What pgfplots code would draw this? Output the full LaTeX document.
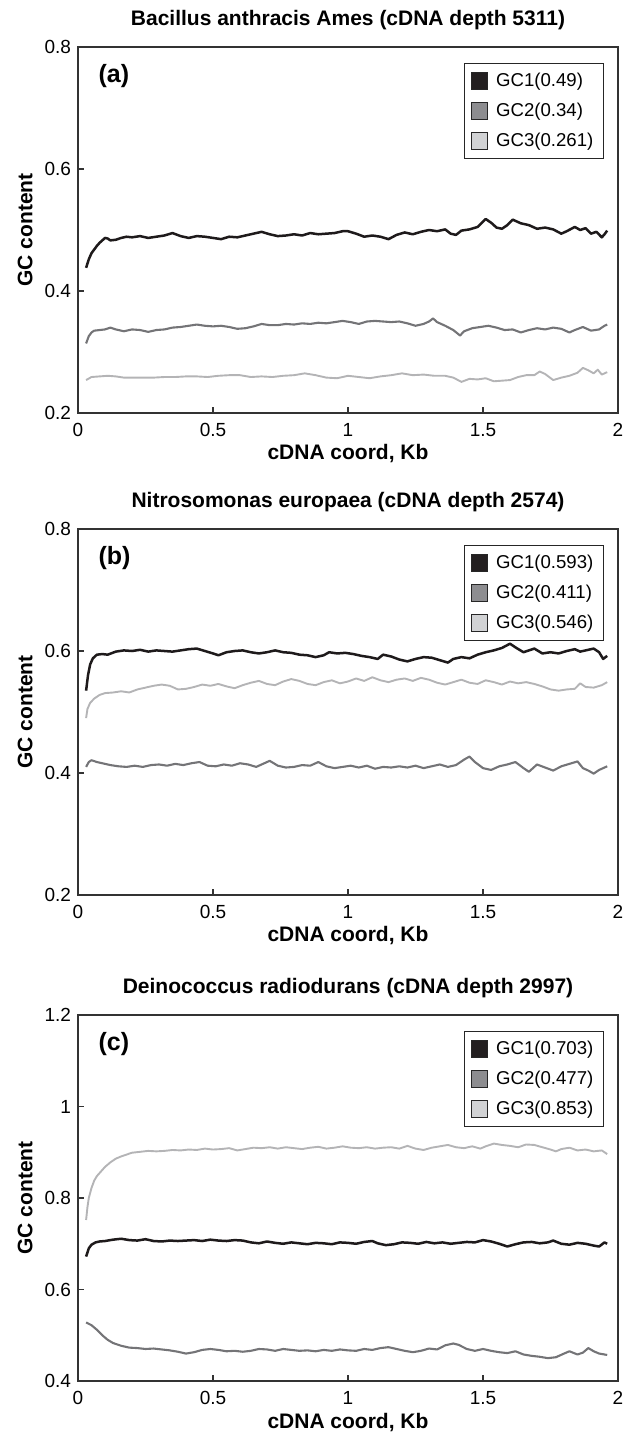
\documentclass[border=0pt]{standalone}
\usepackage{fontspec}
\setmainfont{Liberation Sans}
\usepackage{pgfplots}
\pgfplotsset{compat=1.18}
\definecolor{gcA}{HTML}{1E1A1B}
\definecolor{gcB}{HTML}{747477}
\definecolor{gcC}{HTML}{B4B4B6}
\definecolor{legA}{HTML}{231F20}
\definecolor{legB}{HTML}{8D8D90}
\definecolor{legC}{HTML}{D1D2D4}
\pgfplotsset{
  legend image code/.code={\draw[#1, draw=black!85, line width=0.5pt] (0pt,-4.2pt) rectangle (8.4pt,4.2pt); \path[draw=none, fill=none] (0pt,0pt) -- (10.5pt,0pt);},
  gcaxis/.style={
    scale only axis, width=270pt, height=183pt,
    xmin=0, xmax=2, xtick={0,0.5,1,1.5,2},
    tick align=inside, tick pos=left, major tick length=3pt,
    axis line style={black!80, line width=0.6pt},
    every tick/.style={black!80, line width=0.6pt},
    tick label style={font=\fontsize{9.5}{11}\selectfont},
    xticklabel style={yshift=-1.5pt},
    /pgf/number format/assume math mode=true,
    xlabel={cDNA coord, Kb}, ylabel={GC content},
    label style={font=\bfseries\fontsize{10.5}{12}\selectfont},
    xlabel style={at={(axis description cs:0.5,0)}, anchor=center, yshift=-20.5pt},
    ylabel style={at={(axis description cs:-0.098,0.5)}, anchor=center},
    title style={font=\bfseries\fontsize{10.5}{12}\selectfont, at={(axis description cs:0.5,1)}, anchor=center, yshift=7.25pt},
    legend style={at={(0.974,0.956)}, anchor=north east, draw=black!85, line width=0.6pt,
      font=\fontsize{9.3}{11}\selectfont, row sep=2.8pt, inner xsep=3pt, inner ysep=2.5pt},
    legend cell align=left,
  },
  l1/.style={gcA, line width=1.25pt, line join=round, forget plot},
  l2/.style={gcB, line width=1.05pt, line join=round, forget plot},
  l3/.style={gcC, line width=0.95pt, line join=round, forget plot},
}
\begin{document}
\begin{tikzpicture}
\useasboundingbox (0,0) rectangle (313.5pt,-716.5pt);
% ---------------- (a)
\begin{axis}[gcaxis, at={(39pt,-206.5pt)}, anchor=south west,
  ymin=0.2, ymax=0.8, ytick={0.2,0.4,0.6,0.8},
  title={Bacillus anthracis Ames (cDNA depth 5311)}]
\addlegendimage{fill=legA}\addlegendentry{GC1(0.49)}
\addlegendimage{fill=legB}\addlegendentry{GC2(0.34)}
\addlegendimage{fill=legC}\addlegendentry{GC3(0.261)}
\addplot[l3] table {
x y
0.030 0.254
0.050 0.259
0.080 0.260
0.110 0.261
0.140 0.260
0.170 0.258
0.200 0.258
0.240 0.258
0.280 0.258
0.320 0.259
0.360 0.259
0.400 0.260
0.440 0.260
0.480 0.259
0.520 0.261
0.560 0.262
0.600 0.262
0.640 0.259
0.680 0.260
0.720 0.259
0.760 0.261
0.800 0.262
0.840 0.265
0.880 0.262
0.920 0.258
0.960 0.257
1.000 0.261
1.040 0.259
1.080 0.257
1.120 0.260
1.160 0.262
1.200 0.265
1.240 0.262
1.280 0.263
1.320 0.261
1.360 0.261
1.390 0.258
1.420 0.251
1.450 0.256
1.480 0.255
1.510 0.257
1.540 0.252
1.570 0.253
1.600 0.254
1.630 0.259
1.660 0.262
1.690 0.262
1.710 0.268
1.730 0.264
1.760 0.254
1.790 0.258
1.820 0.261
1.850 0.266
1.870 0.274
1.890 0.270
1.910 0.265
1.925 0.271
1.940 0.263
1.960 0.267
};
\addplot[l2] table {
x y
0.030 0.314
0.040 0.326
0.050 0.332
0.060 0.335
0.080 0.336
0.100 0.337
0.120 0.340
0.140 0.337
0.170 0.334
0.200 0.337
0.230 0.336
0.260 0.333
0.290 0.336
0.320 0.337
0.350 0.340
0.380 0.341
0.410 0.343
0.440 0.345
0.470 0.343
0.500 0.342
0.530 0.343
0.560 0.341
0.590 0.338
0.620 0.339
0.650 0.342
0.680 0.346
0.710 0.344
0.740 0.344
0.770 0.346
0.800 0.345
0.830 0.347
0.860 0.346
0.890 0.348
0.920 0.347
0.950 0.349
0.980 0.351
1.010 0.349
1.040 0.346
1.070 0.350
1.100 0.351
1.130 0.350
1.160 0.349
1.190 0.350
1.220 0.347
1.250 0.343
1.280 0.346
1.300 0.350
1.315 0.355
1.330 0.349
1.360 0.343
1.390 0.336
1.415 0.327
1.430 0.334
1.460 0.339
1.490 0.341
1.520 0.343
1.550 0.340
1.580 0.336
1.610 0.337
1.640 0.332
1.670 0.336
1.700 0.339
1.730 0.337
1.760 0.340
1.790 0.338
1.820 0.332
1.840 0.336
1.870 0.341
1.900 0.335
1.930 0.337
1.950 0.343
1.960 0.345
};
\addplot[l1] table {
x y
0.030 0.438
0.040 0.452
0.050 0.462
0.060 0.468
0.070 0.474
0.080 0.479
0.090 0.483
0.100 0.487
0.110 0.486
0.120 0.483
0.140 0.484
0.160 0.487
0.180 0.489
0.200 0.488
0.230 0.490
0.260 0.487
0.290 0.489
0.320 0.491
0.350 0.495
0.380 0.490
0.410 0.487
0.440 0.490
0.470 0.489
0.500 0.487
0.530 0.485
0.560 0.489
0.590 0.488
0.620 0.491
0.650 0.494
0.680 0.497
0.710 0.493
0.740 0.490
0.770 0.491
0.800 0.493
0.830 0.491
0.860 0.495
0.890 0.493
0.920 0.494
0.950 0.495
0.980 0.498
1.000 0.498
1.030 0.494
1.060 0.489
1.090 0.491
1.120 0.489
1.150 0.485
1.180 0.492
1.210 0.496
1.240 0.493
1.270 0.497
1.300 0.500
1.330 0.498
1.360 0.501
1.380 0.494
1.400 0.492
1.420 0.499
1.450 0.501
1.480 0.505
1.510 0.518
1.530 0.512
1.550 0.504
1.570 0.502
1.590 0.508
1.610 0.517
1.640 0.511
1.670 0.508
1.700 0.502
1.730 0.504
1.760 0.501
1.790 0.494
1.810 0.498
1.840 0.505
1.860 0.500
1.880 0.503
1.900 0.494
1.920 0.497
1.940 0.488
1.950 0.493
1.960 0.499
};
\node[font=\bfseries\fontsize{12.5}{14}\selectfont, anchor=west] at (rel axis cs:0.025,0.92) {(a)};
\end{axis}
% ---------------- (b)
\begin{axis}[gcaxis, at={(39pt,-447.5pt)}, anchor=south west,
  ymin=0.2, ymax=0.8, ytick={0.2,0.4,0.6,0.8},
  title={Nitrosomonas europaea (cDNA depth 2574)}]
\addlegendimage{fill=legA}\addlegendentry{GC1(0.593)}
\addlegendimage{fill=legB}\addlegendentry{GC2(0.411)}
\addlegendimage{fill=legC}\addlegendentry{GC3(0.546)}
\addplot[l3] table {
x y
0.030 0.490
0.035 0.505
0.045 0.515
0.060 0.522
0.080 0.528
0.100 0.531
0.130 0.532
0.160 0.534
0.190 0.532
0.220 0.537
0.250 0.540
0.280 0.543
0.310 0.545
0.340 0.543
0.370 0.537
0.400 0.538
0.430 0.541
0.460 0.545
0.490 0.543
0.520 0.546
0.550 0.542
0.580 0.539
0.610 0.544
0.640 0.548
0.670 0.551
0.700 0.546
0.730 0.544
0.760 0.550
0.790 0.554
0.820 0.551
0.850 0.546
0.880 0.544
0.910 0.549
0.940 0.552
0.970 0.547
1.000 0.550
1.030 0.555
1.060 0.551
1.090 0.557
1.120 0.552
1.150 0.549
1.180 0.553
1.210 0.555
1.240 0.551
1.270 0.556
1.300 0.553
1.330 0.548
1.360 0.545
1.390 0.549
1.420 0.553
1.450 0.548
1.480 0.546
1.510 0.552
1.540 0.549
1.570 0.545
1.600 0.550
1.630 0.547
1.660 0.549
1.690 0.546
1.720 0.542
1.750 0.537
1.780 0.535
1.810 0.537
1.840 0.538
1.860 0.547
1.880 0.541
1.910 0.540
1.940 0.544
1.960 0.549
};
\addplot[l2] table {
x y
0.030 0.410
0.040 0.418
0.050 0.421
0.070 0.418
0.090 0.416
0.120 0.413
0.150 0.411
0.180 0.410
0.210 0.412
0.240 0.410
0.270 0.413
0.300 0.414
0.330 0.412
0.360 0.415
0.390 0.413
0.420 0.416
0.450 0.418
0.480 0.412
0.510 0.411
0.540 0.414
0.570 0.412
0.600 0.416
0.630 0.414
0.660 0.410
0.690 0.416
0.710 0.420
0.740 0.412
0.770 0.409
0.800 0.410
0.830 0.413
0.860 0.412
0.890 0.418
0.920 0.411
0.950 0.408
0.980 0.410
1.010 0.412
1.040 0.409
1.070 0.412
1.100 0.407
1.130 0.410
1.160 0.409
1.190 0.411
1.220 0.409
1.250 0.412
1.280 0.408
1.310 0.411
1.340 0.414
1.370 0.410
1.400 0.413
1.430 0.422
1.450 0.427
1.470 0.418
1.500 0.408
1.530 0.405
1.560 0.411
1.590 0.414
1.620 0.418
1.650 0.408
1.670 0.402
1.700 0.414
1.730 0.409
1.760 0.404
1.790 0.411
1.820 0.415
1.850 0.419
1.870 0.408
1.890 0.404
1.910 0.399
1.930 0.405
1.960 0.411
};
\addplot[l1] table {
x y
0.030 0.535
0.037 0.560
0.045 0.578
0.055 0.588
0.070 0.594
0.090 0.595
0.110 0.594
0.140 0.599
0.170 0.601
0.200 0.600
0.230 0.602
0.260 0.599
0.290 0.601
0.320 0.600
0.350 0.599
0.380 0.601
0.410 0.603
0.440 0.604
0.470 0.600
0.500 0.596
0.520 0.593
0.550 0.598
0.580 0.600
0.610 0.601
0.640 0.598
0.670 0.596
0.700 0.598
0.730 0.601
0.760 0.598
0.790 0.597
0.820 0.594
0.850 0.593
0.880 0.590
0.910 0.593
0.930 0.598
0.960 0.596
0.990 0.597
1.020 0.595
1.050 0.592
1.080 0.590
1.110 0.587
1.130 0.594
1.160 0.591
1.190 0.586
1.220 0.583
1.250 0.587
1.280 0.590
1.310 0.589
1.340 0.585
1.370 0.581
1.390 0.587
1.420 0.590
1.450 0.588
1.480 0.594
1.510 0.598
1.540 0.601
1.570 0.605
1.600 0.612
1.620 0.606
1.650 0.598
1.670 0.601
1.690 0.604
1.720 0.596
1.750 0.598
1.780 0.596
1.810 0.600
1.840 0.603
1.860 0.599
1.890 0.602
1.910 0.604
1.930 0.598
1.945 0.587
1.960 0.592
};
\node[font=\bfseries\fontsize{12.5}{14}\selectfont, anchor=west] at (rel axis cs:0.025,0.92) {(b)};
\end{axis}
% ---------------- (c)
\begin{axis}[gcaxis, at={(39pt,-690.5pt)}, anchor=south west,
  ymin=0.4, ymax=1.2, ytick={0.4,0.6,0.8,1,1.2},
  title={Deinococcus radiodurans (cDNA depth 2997)}]
\addlegendimage{fill=legA}\addlegendentry{GC1(0.703)}
\addlegendimage{fill=legB}\addlegendentry{GC2(0.477)}
\addlegendimage{fill=legC}\addlegendentry{GC3(0.853)}
\addplot[l3] table {
x y
0.030 0.752
0.035 0.780
0.040 0.800
0.050 0.822
0.060 0.838
0.070 0.848
0.085 0.858
0.100 0.868
0.120 0.878
0.140 0.886
0.160 0.891
0.180 0.895
0.200 0.899
0.230 0.901
0.260 0.903
0.290 0.902
0.320 0.903
0.350 0.905
0.380 0.904
0.410 0.906
0.440 0.905
0.470 0.908
0.500 0.906
0.530 0.907
0.560 0.909
0.590 0.904
0.620 0.907
0.650 0.910
0.680 0.909
0.710 0.911
0.740 0.908
0.770 0.911
0.800 0.909
0.830 0.907
0.860 0.910
0.890 0.912
0.920 0.908
0.950 0.910
0.980 0.913
1.010 0.910
1.040 0.909
1.070 0.911
1.100 0.908
1.130 0.910
1.160 0.911
1.190 0.908
1.220 0.914
1.250 0.908
1.280 0.905
1.310 0.910
1.340 0.913
1.370 0.916
1.400 0.911
1.430 0.909
1.460 0.913
1.490 0.908
1.510 0.913
1.540 0.919
1.570 0.916
1.600 0.914
1.630 0.911
1.660 0.917
1.690 0.916
1.720 0.911
1.750 0.906
1.770 0.902
1.790 0.907
1.820 0.910
1.850 0.904
1.880 0.906
1.910 0.902
1.940 0.904
1.960 0.896
};
\addplot[l2] table {
x y
0.030 0.528
0.050 0.522
0.070 0.512
0.090 0.500
0.110 0.490
0.130 0.483
0.160 0.477
0.190 0.473
0.220 0.472
0.250 0.470
0.280 0.471
0.310 0.469
0.340 0.467
0.370 0.464
0.400 0.460
0.430 0.463
0.460 0.468
0.490 0.470
0.520 0.468
0.550 0.465
0.580 0.466
0.610 0.464
0.640 0.466
0.670 0.470
0.700 0.469
0.730 0.466
0.760 0.470
0.790 0.468
0.820 0.466
0.850 0.467
0.880 0.465
0.910 0.468
0.940 0.466
0.970 0.469
1.000 0.467
1.030 0.466
1.060 0.470
1.090 0.468
1.120 0.472
1.150 0.474
1.180 0.470
1.210 0.466
1.240 0.463
1.270 0.466
1.300 0.471
1.330 0.469
1.360 0.478
1.390 0.482
1.410 0.479
1.440 0.470
1.470 0.466
1.500 0.470
1.530 0.466
1.560 0.463
1.590 0.461
1.620 0.465
1.650 0.458
1.680 0.455
1.710 0.453
1.740 0.450
1.770 0.452
1.800 0.460
1.820 0.465
1.850 0.458
1.870 0.462
1.890 0.472
1.910 0.465
1.930 0.460
1.960 0.457
};
\addplot[l1] table {
x y
0.030 0.672
0.040 0.690
0.050 0.698
0.065 0.703
0.080 0.705
0.100 0.706
0.130 0.709
0.160 0.711
0.190 0.708
0.220 0.707
0.250 0.710
0.280 0.706
0.310 0.705
0.340 0.707
0.370 0.706
0.400 0.707
0.430 0.708
0.460 0.706
0.490 0.709
0.520 0.707
0.550 0.706
0.580 0.708
0.610 0.707
0.640 0.703
0.670 0.701
0.700 0.705
0.730 0.702
0.760 0.700
0.790 0.703
0.820 0.701
0.850 0.699
0.880 0.702
0.910 0.701
0.940 0.699
0.970 0.703
1.000 0.702
1.030 0.700
1.060 0.704
1.090 0.706
1.110 0.701
1.140 0.697
1.170 0.699
1.200 0.703
1.230 0.702
1.260 0.700
1.290 0.704
1.320 0.701
1.350 0.703
1.380 0.700
1.410 0.702
1.440 0.704
1.470 0.703
1.500 0.708
1.530 0.705
1.560 0.700
1.590 0.694
1.620 0.699
1.650 0.703
1.680 0.704
1.710 0.701
1.740 0.703
1.760 0.707
1.790 0.700
1.820 0.698
1.850 0.702
1.880 0.700
1.910 0.696
1.930 0.694
1.950 0.703
1.960 0.700
};
\node[font=\bfseries\fontsize{12.5}{14}\selectfont, anchor=west] at (rel axis cs:0.025,0.92) {(c)};
\end{axis}
\end{tikzpicture}
\end{document}
